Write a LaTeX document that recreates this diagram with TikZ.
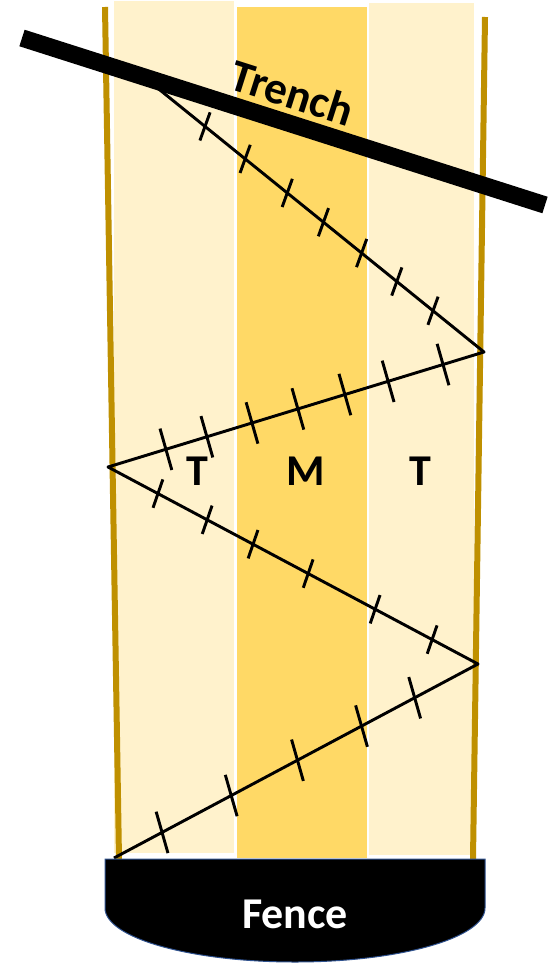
\documentclass[tikz,border=0pt]{standalone}
\usepackage{fontspec}
\setmainfont{Carlito}
\usetikzlibrary{calc}
\definecolor{tanlight}{HTML}{FFF2CC}
\definecolor{tanmid}{HTML}{FFD966}
\definecolor{rodgold}{HTML}{BF9000}
\definecolor{fenceedge}{HTML}{2F528F}
\newcommand{\hatchseg}[5]{%
  \foreach \p in {#5}{
    \path (#1) -- (#2) coordinate[pos=\p] (h);
    \draw[line width=2.2pt] ($(h)+(#3,#4)$) -- ($(h)-(#3,#4)$);}}

\begin{document}
\begin{tikzpicture}[x=0.75pt,y=-0.75pt,font=\fontsize{33}{39}\selectfont\bfseries]
    \useasboundingbox (0,0) rectangle (549,963);
    % strips
    \fill[tanlight] (114,1) rectangle (234,853);
    \fill[tanmid] (237,7) rectangle (367,858);
    \fill[tanlight] (369,3) rectangle (474,855);
    % side rods
    \draw[rodgold,line width=4.5pt] (105,7) -- (119,859);
    \draw[rodgold,line width=4.5pt] (485,17) -- (473,859);
    % zigzag and its hatches
    \coordinate (Z0) at (155,86);
    \coordinate (Z1) at (484,352);
    \coordinate (Z2) at (108,467);
    \coordinate (Z3) at (478,664);
    \coordinate (Z4) at (114,858);
    \draw[line width=2.2pt,line join=round] (Z0) -- (Z1) -- (Z2) -- (Z3) -- (Z4);
    \hatchseg{Z0}{Z1}{5.1}{-14.1}{0.152,0.274,0.402,0.512,0.628,0.735,0.845}
    \hatchseg{Z1}{Z2}{-5.9}{-20.7}{0.109,0.255,0.370,0.495,0.617,0.737,0.846}
    \hatchseg{Z2}{Z3}{4.9}{-14.2}{0.135,0.268,0.392,0.541,0.722,0.876}
    \hatchseg{Z3}{Z4}{-5.9}{-20.7}{0.174,0.320,0.496,0.678,0.868}
    % trench
    \draw[line width=13pt] (22,38) -- (545,205)
      node[pos=0.50,sloped,above=1pt,font=\fontsize{34}{40}\selectfont\bfseries] (trench) {Trench};
    % zone labels
    \node (tl) at (197,471) {T};
    \node (mid) at (306,471) {M};
    \node (tr) at (420,471) {T};
    % fence
    \filldraw[fill=black,draw=fenceedge,line width=0.75pt] (105,859) -- (485,859) -- (485,908)
      arc[start angle=0,end angle=180,x radius=190,y radius=54] -- cycle;
    \node[text=white] (fence) at (295,914) {Fence};
\end{tikzpicture}
\end{document}
